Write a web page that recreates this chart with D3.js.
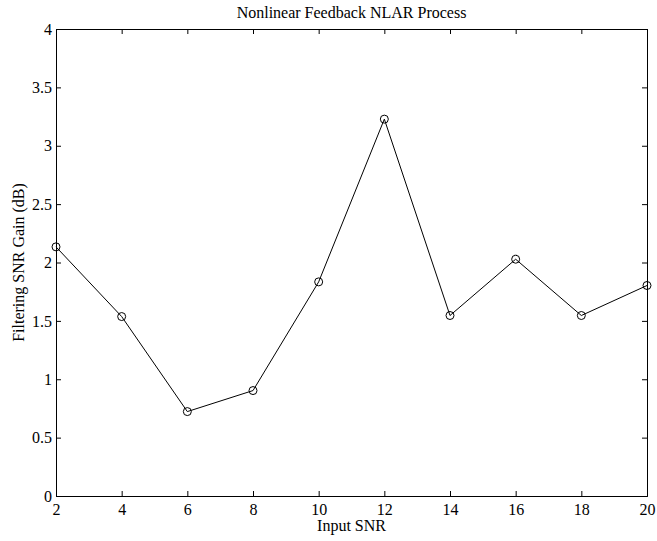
<!DOCTYPE html>
<html>
<head>
<meta charset="utf-8">
<script src="https://cdn.jsdelivr.net/npm/d3@7"></script>
<style>
  body { margin: 0; background: #fff; }
  svg text { font-family: "Liberation Serif", "Times New Roman", serif; fill: #000; }
</style>
</head>
<body>
<div id="chart"></div>
<script>
// data
const inputSnr = [2, 4, 6, 8, 10, 12, 14, 16, 18, 20];
const snrGain = [2.134, 1.537, 0.723, 0.903, 1.834, 3.228, 1.546, 2.028, 1.546, 1.803];
const xTicks = [2, 4, 6, 8, 10, 12, 14, 16, 18, 20];
const yTicks = [0, 0.5, 1, 1.5, 2, 2.5, 3, 3.5, 4];

const W = 657, H = 541;
const margin = { top: 29, right: 10, bottom: 45, left: 56 };
const width = W - margin.left - margin.right;
const height = H - margin.top - margin.bottom;

const svg = d3.select('#chart').append('svg')
  .attr('width', W)
  .attr('height', H);

const g = svg.append('g')
  .attr('transform', `translate(${margin.left},${margin.top})`);

const x = d3.scaleLinear().domain([2, 20]).range([0, width]);
const y = d3.scaleLinear().domain([0, 4]).range([height, 0]);

// ticks pointing inward on all four sides, like matlab
const tickLen = 5;
const bottomAxis = d3.axisBottom(x).tickValues(xTicks).tickSize(-tickLen).tickPadding(8).tickFormat(d3.format('d'));
const leftAxis = d3.axisLeft(y).tickValues(yTicks).tickSize(-tickLen).tickPadding(4).tickFormat(d => d);
const topAxis = d3.axisTop(x).tickValues(xTicks).tickSize(-tickLen).tickFormat('');
const rightAxis = d3.axisRight(y).tickValues(yTicks).tickSize(-tickLen).tickFormat('');

function styleAxis(sel) {
  sel.select('.domain').attr('stroke', '#000').attr('stroke-width', 1);
  sel.selectAll('.tick line').attr('stroke', '#000');
  sel.selectAll('.tick text').style('font-size', '16px').attr('fill', '#000');
}

g.append('g').attr('transform', `translate(0,${height})`).call(bottomAxis).call(styleAxis);
g.append('g').call(leftAxis).call(styleAxis);
g.append('g').call(topAxis).call(styleAxis);
g.append('g').attr('transform', `translate(${width},0)`).call(rightAxis).call(styleAxis);

// line + circle markers
const line = d3.line()
  .x((d, i) => x(inputSnr[i]))
  .y(d => y(d));

g.append('path')
  .datum(snrGain)
  .attr('fill', 'none')
  .attr('stroke', '#000')
  .attr('stroke-width', 1)
  .attr('d', line);

g.selectAll('circle')
  .data(snrGain)
  .enter()
  .append('circle')
  .attr('cx', (d, i) => x(inputSnr[i]))
  .attr('cy', d => y(d))
  .attr('r', 4)
  .attr('fill', 'none')
  .attr('stroke', '#000')
  .attr('stroke-width', 1);

// title and labels
svg.append('text')
  .attr('x', margin.left + width / 2)
  .attr('y', 18)
  .attr('text-anchor', 'middle')
  .style('font-size', '16px')
  .text('Nonlinear Feedback NLAR Process');

svg.append('text')
  .attr('x', margin.left + width / 2)
  .attr('y', 531)
  .attr('text-anchor', 'middle')
  .style('font-size', '16px')
  .text('Input SNR');

svg.append('text')
  .attr('transform', `translate(24,${margin.top + height / 2}) rotate(-90)`)
  .attr('text-anchor', 'middle')
  .style('font-size', '16px')
  .text('Filtering SNR Gain (dB)');
</script>
</body>
</html>
